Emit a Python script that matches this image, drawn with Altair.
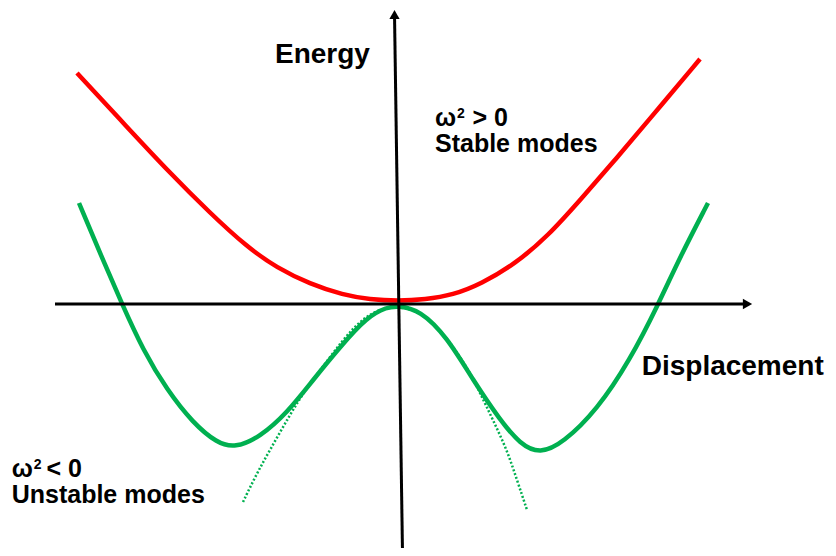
import altair as alt
import pandas as pd

# Stable mode energy (red curve), displacement vs energy
stable_x = [-3.21, -2.71, -2.28, -1.88, -1.51, -1.21, -0.88, -0.55, -0.28, 0.00,
            0.27, 0.55, 0.83, 1.17, 1.50, 1.83, 2.17, 2.50, 3.02]
stable_y = [2.31, 1.77, 1.31, 0.91, 0.57, 0.36, 0.20, 0.09, 0.045, 0.03,
            0.045, 0.09, 0.20, 0.40, 0.68, 1.05, 1.44, 1.83, 2.45]

# Unstable mode energy (green double well)
unstable_x = [-3.19, -2.98, -2.76, -2.55, -2.31, -2.05, -1.81, -1.63, -1.38, -1.11,
              -0.85, -0.58, -0.31, -0.11, 0.00, 0.22, 0.49, 0.75, 1.02, 1.22,
              1.42, 1.65, 1.99, 2.32, 2.60, 2.82, 3.10]
unstable_y = [1.01, 0.51, 0.00, -0.46, -0.86, -1.19, -1.39, -1.44, -1.33, -1.09,
              -0.76, -0.43, -0.13, -0.03, -0.02, -0.06, -0.33, -0.76, -1.16, -1.40,
              -1.50, -1.39, -1.06, -0.56, -0.01, 0.47, 1.01]

# Harmonic approximation at the saddle (dotted green)
harm_x = [-1.55, -1.41, -1.28, -1.11, -0.95, -0.68, -0.45, -0.23, 0.00,
          0.24, 0.49, 0.72, 0.82, 0.95, 1.09, 1.19, 1.29]
harm_y = [-1.98, -1.69, -1.46, -1.16, -0.89, -0.53, -0.23, -0.06, -0.02,
          -0.08, -0.33, -0.68, -0.89, -1.16, -1.46, -1.76, -2.06]

# Labels (the superscript "2" of ω² is its own small text item)
label_text = ["Energy", "Displacement",
              "ω", "2", "> 0", "Stable modes",
              "ω", "2", "< 0", "Unstable modes"]
label_x = [-1.23, 2.437,
           0.37, 0.59, 0.745, 0.37,
           -3.863, -3.643, -3.515, -3.863]
label_y = [2.41, -0.71,
           1.78, 1.86, 1.78, 1.52,
           -1.73, -1.65, -1.73, -1.99]
label_size = [28, 28,
              25, 14, 25, 25,
              25, 14, 25, 25]

xs = alt.Scale(domain=[-3.90, 4.30], nice=False, zero=False)
ys = alt.Scale(domain=[-2.44, 2.96], nice=False, zero=False)


def curve(xv, yv, **mark):
    df = pd.DataFrame({"x": xv, "y": yv, "o": list(range(len(xv)))})
    return alt.Chart(df).mark_line(interpolate="basis", **mark).encode(
        x=alt.X("x:Q", scale=xs, axis=None),
        y=alt.Y("y:Q", scale=ys, axis=None),
        order="o:Q",
    )


dotted = curve(harm_x, harm_y, color="#00B050", strokeWidth=2.5, strokeDash=[2, 2])
green = curve(unstable_x, unstable_y, color="#00B050", strokeWidth=4.5)
red = curve(stable_x, stable_y, color="#FF0000", strokeWidth=4.5)

hax = alt.Chart(pd.DataFrame({"x": [-3.43], "x2": [3.47], "y": [0.0]})).mark_rule(
    color="black", strokeWidth=3).encode(
    x=alt.X("x:Q", scale=xs, axis=None), x2="x2:Q",
    y=alt.Y("y:Q", scale=ys, axis=None))
vax = alt.Chart(pd.DataFrame({"x": [-0.035], "x2": [0.045], "y": [2.90], "y2": [-2.49]})).mark_rule(
    color="black", strokeWidth=3).encode(
    x=alt.X("x:Q", scale=xs, axis=None), x2="x2:Q",
    y=alt.Y("y:Q", scale=ys, axis=None), y2="y2:Q")

harrow = alt.Chart(pd.DataFrame({"x": [3.495], "y": [0.0]})).mark_point(
    shape="triangle-right", filled=True, size=115, color="black", opacity=1, strokeWidth=0).encode(
    x=alt.X("x:Q", scale=xs, axis=None), y=alt.Y("y:Q", scale=ys, axis=None))
varrow = alt.Chart(pd.DataFrame({"x": [-0.035], "y": [2.895]})).mark_point(
    shape="triangle-up", filled=True, size=105, color="black", opacity=1, strokeWidth=0).encode(
    x=alt.X("x:Q", scale=xs, axis=None), y=alt.Y("y:Q", scale=ys, axis=None))

labels = alt.Chart(pd.DataFrame({"x": label_x, "y": label_y, "t": label_text, "s": label_size})).mark_text(
    align="left", baseline="alphabetic", font="Liberation Sans, Arial, sans-serif",
    fontWeight="bold", color="black").encode(
    x=alt.X("x:Q", scale=xs, axis=None), y=alt.Y("y:Q", scale=ys, axis=None),
    text="t:N", size=alt.Size("s:Q", scale=None, legend=None))

chart = alt.layer(dotted, green, red, hax, vax, harrow, varrow, labels).properties(
    width=820, height=540, padding=0,
    autosize=alt.AutoSizeParams(type="none"),
    background="white",
).configure_view(stroke=None)

chart.save("out.html", embed_options={"renderer": "svg", "actions": False})
